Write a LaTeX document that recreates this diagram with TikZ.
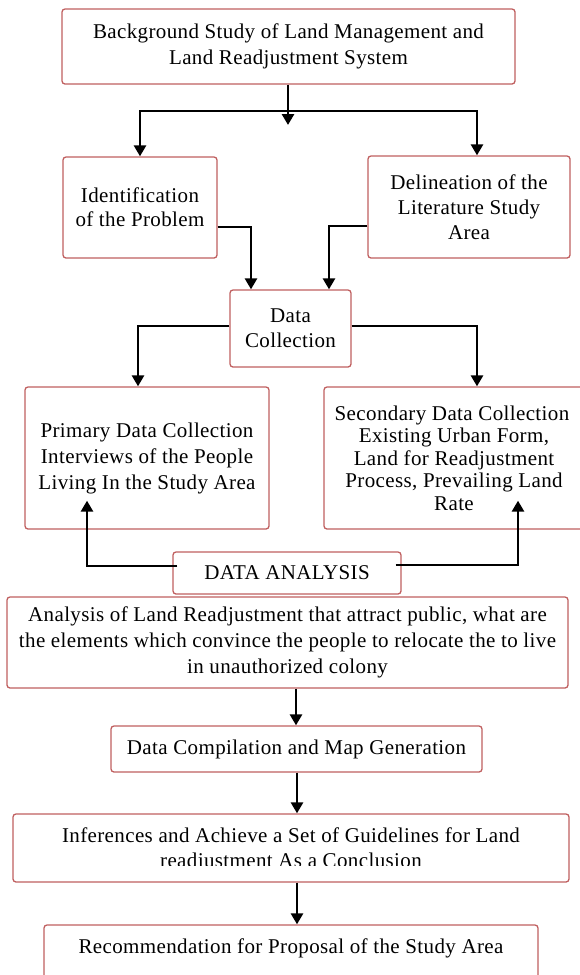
\documentclass[tikz,border=0pt]{standalone}
\usepackage{fontspec}
\setmainfont{Liberation Serif}[LetterSpace=1.8]
\usetikzlibrary{arrows.meta,calc}
\definecolor{boxred}{RGB}{192,96,96}
\begin{document}
\begin{tikzpicture}[x=1pt,y=-1pt,
  box/.style={draw=boxred, line width=1.3pt, rounded corners=3pt, fill=white,
    align=center, inner sep=0pt, font=\fontsize{21}{26}\selectfont},
  txt/.style={align=center, inner sep=0pt, font=\fontsize{21}{25}\selectfont},
  arr/.style={draw=black, line width=2.7pt, -{Triangle[length=11pt,width=12pt]}},
]
\useasboundingbox (0,0) rectangle (579,975);

% boxes
\node[box, minimum width=453pt, minimum height=75pt] (bg) at (288.5,46.5)
  {Background Study of Land Management and\\Land Readjustment System};
\node[box, minimum width=154pt, minimum height=101pt, font=\fontsize{21}{24}\selectfont] (idp) at (140,207.5)
  {Identification\\of the Problem};
\node[box, minimum width=202pt, minimum height=102pt, font=\fontsize{21}{25}\selectfont] (lit) at (469,207)
  {Delineation of the\\Literature Study\\Area};
\node[box, minimum width=121pt, minimum height=77pt, font=\fontsize{21}{25}\selectfont] (dc) at (290.5,328.5)
  {Data\\Collection};
\node[box, minimum width=244pt, minimum height=142pt] (prim) at (147,458)
  {Primary Data Collection\\Interviews of the People\\Living In the Study Area};
\node[box, minimum width=260pt, minimum height=142pt, font=\fontsize{21}{22.5}\selectfont] (sec) at (454,458)
  {\hspace*{-4pt}Secondary Data Collection\\Existing Urban Form,\\Land for Readjustment\\Process, Prevailing Land\\Rate};
\node[box, minimum width=561pt, minimum height=91pt] (ana) at (287.5,642.5)
  {Analysis of Land Readjustment that attract public, what are\\the elements which convince the people to relocate the to live\\in unauthorized colony};
\node[box, minimum width=228pt, minimum height=42pt] (da) at (287,573)
  {DATA ANALYSIS};
\node[box, minimum width=371pt, minimum height=46pt] (comp) at (296.5,749)
  {Data Compilation and Map Generation};
\node[box, minimum width=556pt, minimum height=68pt] (inf) at (291,848) {};
\begin{scope}
  \clip (0,800) rectangle (579,865);
  \node[txt] (inftxt) at (291,850)
    {Inferences and Achieve a Set of Guidelines for Land\\readjustment As a Conclusion};
\end{scope}
\node[box, minimum width=494pt, minimum height=80pt] (rec) at (291,965) {};
\node[txt] (rectxt) at (291,948) {Recommendation for Proposal of the Study Area};

% connectors
\coordinate (split) at (288,111);
\draw[line width=2.7pt] (bg.south -| split) -- (split);
\draw[arr] (split) -- ++(0,14);
\draw[arr] (split) -| (idp.north);
\draw[arr] (split) -| ([xshift=8pt]lit.north);
\draw[arr] ([yshift=-19.5pt]idp.east) -| ([xshift=-39.5pt]dc.north);
\draw[arr] ([yshift=-19pt]lit.west) -| ([xshift=38.5pt]dc.north);
\draw[arr] ([yshift=2.5pt]dc.west) -| ([xshift=-9pt]prim.north);
\draw[arr] ([yshift=2.5pt]dc.east) -| ([xshift=23pt]sec.north);
\draw[arr] ([xshift=5pt,yshift=7pt]da.west) -| ([xshift=-60pt,yshift=29pt]prim.south);
\draw[arr] ([xshift=-6pt,yshift=8pt]da.east) -| ([xshift=64pt,yshift=29pt]sec.south);
\draw[arr] ([xshift=8.5pt]ana.south) -- ([xshift=-0.5pt]comp.north);
\draw[arr] ([xshift=0.5pt]comp.south) -- ([xshift=6pt]inf.north);
\draw[arr] ([xshift=6pt]inf.south) -- ([xshift=6pt]rec.north);
\end{tikzpicture}
\end{document}
